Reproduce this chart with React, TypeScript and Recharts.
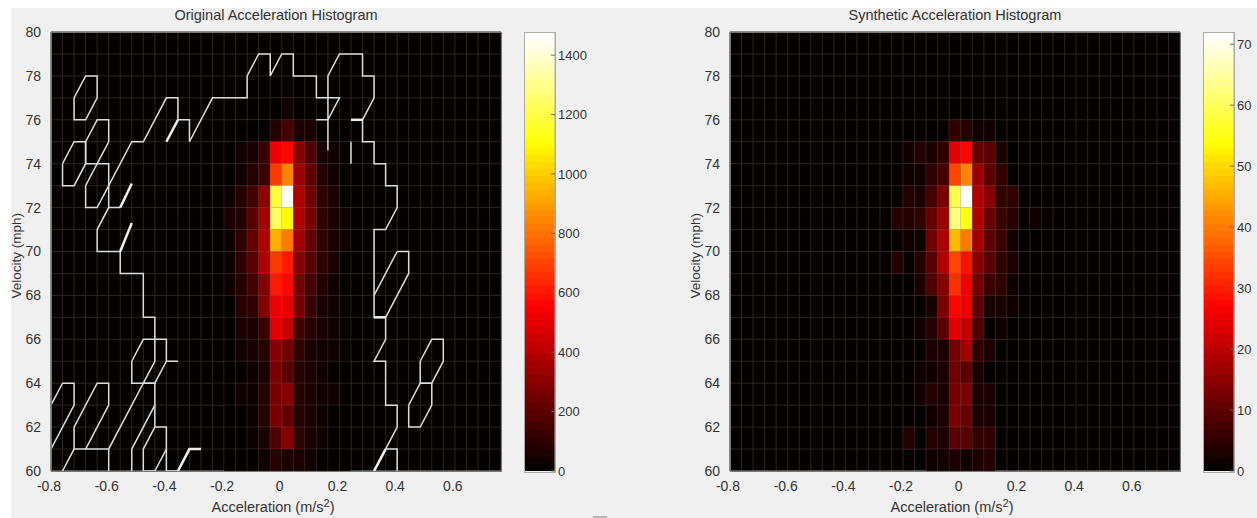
import React from "react";
import {
  ScatterChart,
  Scatter,
  BarChart,
  Bar,
  XAxis,
  YAxis,
  CartesianGrid,
} from "recharts";

type Pt = [number, number];

const accelTicks = [-0.8, -0.6, -0.4, -0.2, 0, 0.2, 0.4, 0.6];
const velTicks = [60, 62, 64, 66, 68, 70, 72, 74, 76, 78, 80];
const gridAccels = Array.from({ length: 40 }, (_, i) => +(-0.8 + i * 0.04).toFixed(2));
const gridVels = Array.from({ length: 21 }, (_, i) => 60 + i);

const accelColumns = [-0.24, -0.2, -0.16, -0.12, -0.08, -0.04, 0, 0.04, 0.08, 0.12, 0.16, 0.2, 0.24];
const velocityRows = [76, 75, 74, 73, 72, 71, 70, 69, 68, 67, 66, 65, 64, 63, 62, 61, 60];

const originalCounts = [
  [0, 0, 0, 0, 0, 15, 30, 15, 10, 0, 0, 0, 0],
  [0, 0, 5, 10, 15, 85, 150, 65, 65, 15, 10, 0, 0],
  [5, 10, 30, 60, 120, 510, 570, 280, 170, 55, 30, 10, 5],
  [5, 15, 45, 75, 130, 684, 836, 326, 217, 75, 45, 15, 5],
  [15, 45, 75, 150, 305, 1195, 1478, 370, 240, 100, 55, 20, 10],
  [20, 65, 85, 185, 360, 1240, 1108, 380, 260, 110, 60, 25, 10],
  [10, 25, 110, 215, 390, 924, 815, 350, 215, 100, 50, 25, 10],
  [10, 25, 95, 195, 370, 685, 620, 280, 185, 110, 60, 20, 10],
  [10, 25, 85, 150, 280, 620, 555, 250, 150, 85, 40, 20, 5],
  [5, 20, 75, 110, 280, 530, 490, 240, 120, 65, 35, 15, 5],
  [5, 15, 55, 65, 130, 490, 435, 160, 85, 50, 30, 15, 5],
  [5, 15, 40, 50, 85, 280, 250, 110, 65, 40, 25, 10, 5],
  [0, 5, 15, 40, 65, 260, 185, 85, 50, 35, 20, 10, 0],
  [5, 15, 30, 40, 85, 260, 295, 85, 50, 35, 25, 10, 0],
  [0, 10, 20, 40, 75, 260, 215, 85, 50, 30, 15, 5, 0],
  [0, 5, 15, 30, 50, 175, 280, 95, 50, 25, 15, 5, 0],
  [0, 5, 10, 20, 40, 85, 55, 50, 30, 15, 10, 5, 0],
];

const syntheticCounts = [
  [0, 0, 0, 0, 0, 0, 0, 0, 0, 0, 0, 0, 0],
  [0, 0, 0, 0, 0, 5, 4, 2, 2, 0, 0, 0, 0],
  [0, 2, 4, 3, 5, 24, 28, 11, 9, 3, 0, 0, 0],
  [0, 2, 2, 5, 7, 34, 41, 16, 10, 5, 0, 0, 0],
  [0, 4, 3, 7, 13, 59, 72, 18, 14, 5, 5, 0, 0],
  [4, 4, 5, 11, 16, 62, 54, 18, 11, 6, 4, 0, 2],
  [0, 2, 2, 12, 18, 47, 40, 17, 10, 6, 2, 0, 0],
  [4, 0, 4, 10, 18, 34, 29, 14, 9, 5, 3, 0, 0],
  [0, 0, 3, 8, 14, 32, 25, 12, 6, 5, 2, 0, 0],
  [0, 0, 0, 3, 13, 28, 25, 9, 3, 3, 2, 0, 0],
  [0, 0, 2, 4, 10, 24, 21, 8, 0, 2, 0, 0, 0],
  [0, 0, 0, 3, 3, 12, 17, 5, 3, 0, 0, 0, 0],
  [0, 0, 2, 2, 3, 12, 9, 3, 1, 0, 0, 0, 0],
  [0, 0, 2, 4, 3, 12, 13, 3, 3, 0, 0, 0, 0],
  [0, 0, 0, 2, 3, 13, 11, 3, 3, 0, 0, 0, 0],
  [0, 4, 0, 4, 3, 9, 9, 5, 5, 0, 0, 0, 0],
  [0, 0, 0, 2, 2, 3, 2, 3, 4, 0, 0, 0, 0],
];

// contour outlines of the original histogram, [acceleration, velocity]
const contourPaths: Pt[][] = [
  [[-0.72, 77], [-0.68, 78], [-0.64, 78], [-0.64, 77], [-0.68, 76], [-0.72, 76], [-0.72, 77]],
  [[-0.76, 74], [-0.72, 75], [-0.68, 75], [-0.68, 74], [-0.72, 73], [-0.76, 73], [-0.76, 74]],
  [[-0.68, 75], [-0.64, 76], [-0.6, 76], [-0.6, 75], [-0.64, 74], [-0.68, 74], [-0.68, 75]],
  [[-0.68, 73], [-0.64, 74], [-0.6, 74], [-0.6, 73], [-0.64, 72], [-0.68, 72], [-0.68, 73]],
  [
    [-0.32, 61], [-0.36, 60], [-0.4, 60], [-0.4, 62], [-0.44, 62], [-0.44, 64], [-0.48, 64],
    [-0.6, 61], [-0.6, 60],
  ],
  [
    [-0.36, 65], [-0.4, 65], [-0.4, 66], [-0.44, 66], [-0.44, 67], [-0.48, 67], [-0.48, 69],
    [-0.56, 69], [-0.56, 70], [-0.64, 70], [-0.64, 71], [-0.6, 72], [-0.56, 72],
  ],
  [
    [-0.6, 72], [-0.6, 73], [-0.52, 75], [-0.48, 75], [-0.4, 77], [-0.36, 77], [-0.36, 76],
    [-0.32, 76], [-0.32, 75], [-0.24, 77], [-0.12, 77], [-0.12, 78], [-0.08, 79], [-0.04, 79],
    [-0.04, 78], [0, 79], [0.04, 79], [0.04, 78], [0.12, 78], [0.12, 77], [0.16, 77],
    [0.16, 76], [0.12, 76], [0.16, 76], [0.2, 77], [0.16, 77], [0.16, 78], [0.2, 79],
    [0.28, 79], [0.28, 78], [0.32, 78], [0.32, 77], [0.28, 76], [0.28, 75], [0.32, 75],
    [0.32, 74], [0.36, 74], [0.36, 73], [0.4, 73], [0.4, 72], [0.36, 71], [0.32, 71],
    [0.32, 67], [0.36, 67], [0.36, 66], [0.32, 65], [0.36, 65], [0.36, 63], [0.4, 63],
    [0.4, 62], [0.36, 61], [0.32, 60],
  ],
  [[0.36, 61], [0.4, 61], [0.4, 60]],
  [[0.4, 70], [0.44, 70], [0.44, 69], [0.36, 67]],
  [[0.4, 70], [0.32, 68]],
  [[0.48, 65], [0.52, 66], [0.56, 66], [0.56, 65], [0.52, 64], [0.48, 64], [0.48, 65]],
  [[0.44, 63], [0.48, 64], [0.52, 64], [0.52, 63], [0.48, 62], [0.44, 62], [0.44, 63]],
  [[-0.52, 65], [-0.48, 66], [-0.44, 66], [-0.44, 65], [-0.48, 64], [-0.52, 64], [-0.52, 65]],
  [[-0.4, 65], [-0.44, 64], [-0.48, 64]],
  [[-0.44, 63], [-0.52, 61], [-0.52, 60]],
  [[-0.48, 60], [-0.48, 61], [-0.44, 62]],
  [[-0.4, 61], [-0.44, 60], [-0.48, 60]],
  [[-0.8, 63], [-0.76, 64], [-0.72, 64], [-0.72, 63], [-0.8, 61]],
  [[-0.76, 60], [-0.72, 61], [-0.6, 61]],
  [[-0.72, 61], [-0.72, 62], [-0.64, 64], [-0.6, 64], [-0.6, 63], [-0.68, 61]],
  [[0.24, 75], [0.24, 74]],
  [[0.16, 76], [0.16, 74.6]],
];

const thickStubs: Pt[][] = [
  [[-0.56, 72], [-0.52, 73.1]],
  [[-0.56, 70], [-0.52, 71.3]],
  [[-0.4, 75], [-0.36, 76]],
  [[-0.36, 60], [-0.32, 61], [-0.28, 61]],
  [[0.24, 76], [0.28, 76]],
  [[0.32, 67], [0.36, 67]],
  [[0.32, 60], [0.36, 61]],
];

const CELL_W = 450 / 39;
const CELL_H = 439 / 20;

// MATLAB hot colormap with 64 steps
const hot = (value: number, max: number) => {
  const idx = Math.min(63, Math.floor((value / max) * 64));
  const r = Math.min(1, (idx + 0.5) / 24);
  const g = Math.max(0, Math.min(1, (idx + 0.5 - 24) / 24));
  const b = Math.max(0, Math.min(1, (idx + 1 - 48) / 16));
  return `rgb(${Math.round(r * 255)},${Math.round(g * 255)},${Math.round(b * 255)})`;
};

const buildCells = (counts: number[][]) =>
  counts.flatMap((row, r) =>
    row
      .map((count, c) => ({ accel: accelColumns[c] + 0.02, vel: velocityRows[r] + 0.5, count }))
      .filter((d) => d.count > 0)
  );

const HeatCell = (props: any) => {
  const { cx, cy, payload, max } = props;
  return (
    <rect
      x={cx - CELL_W / 2}
      y={cy - CELL_H / 2}
      width={CELL_W}
      height={CELL_H}
      fill={hot(payload.count, max)}
      stroke="rgba(255,255,255,0.08)"
      strokeWidth={1}
    />
  );
};

const AccelLabel = (props: any) => {
  const { viewBox } = props;
  return (
    <text
      x={viewBox.x + viewBox.width / 2 - 3}
      y={viewBox.y + 41}
      textAnchor="middle"
      fontSize={14.5}
      fill="#333"
    >
      Acceleration (m/s
      <tspan dy={-5} fontSize={11}>2</tspan>
      <tspan dy={5}>)</tspan>
    </text>
  );
};

const noShape = () => null;
const toPoints = (path: Pt[]) => path.map(([accel, vel]) => ({ accel, vel }));

const Heatmap = ({
  left,
  title,
  counts,
  max,
  contours,
}: {
  left: number;
  title: string;
  counts: number[][];
  max: number;
  contours: boolean;
}) => (
  <div style={{ position: "absolute", left, top: 0, width: 520, height: 518 }}>
    <div
      style={{
        position: "absolute",
        left: 51,
        width: 450,
        top: 7,
        textAlign: "center",
        fontSize: 14.5,
        color: "#333",
        lineHeight: "17px",
      }}
    >
      {title}
    </div>
    <ScatterChart
      width={520}
      height={518}
      margin={{ top: 32, left: 11, right: 19, bottom: 12 }}
    >
      <CartesianGrid
        fill="#050000"
        stroke="#2c2424"
        horizontalValues={gridVels}
        verticalValues={gridAccels}
      />
      <XAxis
        type="number"
        dataKey="accel"
        domain={[-0.8, 0.76]}
        ticks={accelTicks}
        allowDataOverflow
        height={35}
        tickLine={false}
        axisLine={{ stroke: "#888" }}
        interval={0}
        tick={{ fill: "#333", fontSize: 14, dx: -2 }}
        tickFormatter={(v: number) => String(v)}
        tickMargin={4}
        label={<AccelLabel />}
      />
      <YAxis
        type="number"
        dataKey="vel"
        domain={[60, 80]}
        ticks={velTicks}
        allowDataOverflow
        width={40}
        tickLine={false}
        axisLine={{ stroke: "#888" }}
        interval={0}
        tick={{ fill: "#333", fontSize: 14 }}
        tickMargin={4}
        label={{
          value: "Velocity (mph)",
          angle: -90,
          position: "insideLeft",
          dx: 0,
          dy: 47,
          fontSize: 13.5,
          fill: "#333",
        }}
      />
      <Scatter
        data={buildCells(counts)}
        isAnimationActive={false}
        shape={(p: any) => <HeatCell {...p} max={max} />}
      />
      {contours &&
        contourPaths.map((path, i) => (
          <Scatter
            key={`contour-${i}`}
            data={toPoints(path)}
            isAnimationActive={false}
            shape={noShape}
            line={{ stroke: "#dcdcdc", strokeWidth: 1.5 }}
          />
        ))}
      {contours &&
        thickStubs.map((path, i) => (
          <Scatter
            key={`stub-${i}`}
            data={toPoints(path)}
            isAnimationActive={false}
            shape={noShape}
            line={{ stroke: "#eeeeee", strokeWidth: 2.5 }}
          />
        ))}
    </ScatterChart>
    <div
      style={{
        position: "absolute",
        left: 51,
        top: 32,
        width: 449,
        height: 438,
        border: "1px solid #777",
        pointerEvents: "none",
      }}
    />
  </div>
);

const Colorbar = ({ left, max, ticks }: { left: number; max: number; ticks: number[] }) => {
  const bands = Array.from({ length: 64 }, (_, i) => i);
  const row: Record<string, number | string> = { name: "scale" };
  bands.forEach((i) => {
    row[`b${i}`] = max / 64;
  });
  return (
    <div style={{ position: "absolute", left, top: 0, width: 70, height: 518 }}>
      <BarChart
        width={70}
        height={518}
        data={[row]}
        barCategoryGap={0}
        margin={{ top: 32, left: 0, right: 0, bottom: 47 }}
      >
        <XAxis dataKey="name" hide />
        <YAxis
          orientation="right"
          domain={[0, max]}
          ticks={ticks}
          width={40}
          interval={0}
          axisLine={{ stroke: "#aaa" }}
          tickSize={-4}
          tickMargin={7}
          tickLine={{ stroke: "#666" }}
          tick={{ fill: "#333", fontSize: 13 }}
        />
        {bands.map((i) => (
          <Bar
            key={i}
            dataKey={`b${i}`}
            stackId="scale"
            fill={hot((i + 0.5) * (max / 64), max)}
            isAnimationActive={false}
            shapeRendering="crispEdges"
          />
        ))}
      </BarChart>
      <div
        style={{
          position: "absolute",
          left: -1,
          top: 32,
          width: 30,
          height: 439,
          border: "1px solid #aaa",
          pointerEvents: "none",
        }}
      />
    </div>
  );
};

export default function App() {
  return (
    <div
      style={{
        position: "fixed",
        left: 0,
        top: 0,
        width: 1257,
        height: 518,
        overflow: "hidden",
        background: "#fff",
        fontFamily: "'Liberation Sans', Arial, sans-serif",
      }}
    >
      <div
        style={{ position: "absolute", left: 11, top: 8, width: 1246, height: 510, background: "#f0f0f0" }}
      />
      <Heatmap left={0} title="Original Acceleration Histogram" counts={originalCounts} max={1478} contours />
      <Heatmap left={679} title="Synthetic Acceleration Histogram" counts={syntheticCounts} max={72} contours={false} />
      <Colorbar left={525} max={1478} ticks={[0, 200, 400, 600, 800, 1000, 1200, 1400]} />
      <Colorbar left={1204} max={72} ticks={[0, 10, 20, 30, 40, 50, 60, 70]} />
      <div style={{ position: "absolute", left: 593, top: 516, width: 14, height: 2, background: "#b5b5b5" }} />
    </div>
  );
}
